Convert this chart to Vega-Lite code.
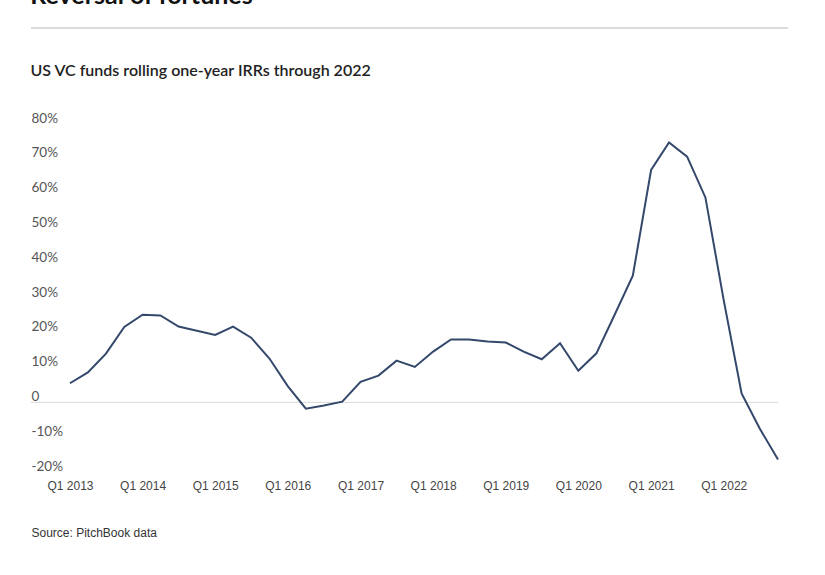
{
  "$schema": "https://vega.github.io/schema/vega-lite/v6.json",
  "background": "white",
  "padding": {"left": 30, "top": -16, "right": 20, "bottom": 20},
  "spacing": 34,
  "config": {"view": {"stroke": null}, "axis": {"labelOverlap": false}},
  "vconcat": [
    {
      "data": {"values": [{"level": 0}]},
      "width": 757,
      "height": 1,
      "title": {"text": "Reversal of fortunes", "anchor": "start", "font": "Lato", "fontSize": 25, "fontWeight": "bold", "color": "#111111", "offset": 18},
      "mark": {"type": "rule", "color": "#cfcfcf", "strokeWidth": 1.5},
      "encoding": {"y": {"field": "level", "type": "quantitative", "scale": {"domain": [0, 1]}, "axis": null}}
    },
    {
      "width": 747,
      "height": 348,
      "title": {"text": "US VC funds rolling one-year IRRs through 2022", "anchor": "start", "font": "Lato", "fontSize": 16, "fontWeight": 600, "color": "#222222", "offset": 32},
      "layer": [
        {
          "data": {"values": [{"level": 0}]},
          "mark": {"type": "rule", "color": "#d9d9d9", "strokeWidth": 1},
          "encoding": {"y": {"field": "level", "type": "quantitative", "scale": {"domain": [-20, 80], "nice": false},
              "axis": {
                "values": [-20, -10, 0, 10, 20, 30, 40, 50, 60, 70, 80],
                "labelExpr": "datum.value == 0 ? '0' : datum.value + '%'",
                "labelAlign": "left",
                "labelBaseline": "alphabetic",
                "labelOffset": -2,
                "labelPadding": 0,
                "labelOverlap": false,
                "labelFlush": false,
                "ticks": false,
                "tickSize": 0,
                "domain": false,
                "grid": false,
                "title": null,
                "labelFont": "Lato",
                "labelFontSize": 13.5,
                "labelColor": "#555555"
              }}}
        },
        {
          "data": {"values": [
            {"quarter": "2013-01-01", "irr": 5.5},
            {"quarter": "2013-04-01", "irr": 8.6},
            {"quarter": "2013-07-01", "irr": 14.0},
            {"quarter": "2013-10-01", "irr": 21.7},
            {"quarter": "2014-01-01", "irr": 25.2},
            {"quarter": "2014-04-01", "irr": 25.0},
            {"quarter": "2014-07-01", "irr": 21.8},
            {"quarter": "2014-10-01", "irr": 20.6},
            {"quarter": "2015-01-01", "irr": 19.4},
            {"quarter": "2015-04-01", "irr": 21.8},
            {"quarter": "2015-07-01", "irr": 18.6},
            {"quarter": "2015-10-01", "irr": 12.6},
            {"quarter": "2016-01-01", "irr": 4.7},
            {"quarter": "2016-04-01", "irr": -1.8},
            {"quarter": "2016-07-01", "irr": -0.9},
            {"quarter": "2016-10-01", "irr": 0.2},
            {"quarter": "2017-01-01", "irr": 5.9},
            {"quarter": "2017-04-01", "irr": 7.7},
            {"quarter": "2017-07-01", "irr": 12.0},
            {"quarter": "2017-10-01", "irr": 10.2},
            {"quarter": "2018-01-01", "irr": 14.6},
            {"quarter": "2018-04-01", "irr": 18.1},
            {"quarter": "2018-07-01", "irr": 18.1},
            {"quarter": "2018-10-01", "irr": 17.5},
            {"quarter": "2019-01-01", "irr": 17.2},
            {"quarter": "2019-04-01", "irr": 14.6},
            {"quarter": "2019-07-01", "irr": 12.4},
            {"quarter": "2019-10-01", "irr": 17.0},
            {"quarter": "2020-01-01", "irr": 9.1},
            {"quarter": "2020-04-01", "irr": 14.1},
            {"quarter": "2020-07-01", "irr": 25.1},
            {"quarter": "2020-10-01", "irr": 36.4},
            {"quarter": "2021-01-01", "irr": 66.8},
            {"quarter": "2021-04-01", "irr": 74.7},
            {"quarter": "2021-07-01", "irr": 70.6},
            {"quarter": "2021-10-01", "irr": 58.9},
            {"quarter": "2022-01-01", "irr": 29.4},
            {"quarter": "2022-04-01", "irr": 2.6},
            {"quarter": "2022-07-01", "irr": -7.5},
            {"quarter": "2022-10-01", "irr": -16.4}
          ]},
          "mark": {"type": "line", "color": "#34486b", "strokeWidth": 2},
          "encoding": {
            "x": {
              "field": "quarter",
              "type": "temporal",
              "scale": {"type": "utc", "domain": [
                {"year": 2012, "month": 6, "date": 19, "utc": true},
                {"year": 2022, "month": 10, "date": 1, "utc": true}
              ]},
              "axis": {
                "values": [
                  {"year": 2013, "month": 1, "date": 1, "utc": true},
                  {"year": 2014, "month": 1, "date": 1, "utc": true},
                  {"year": 2015, "month": 1, "date": 1, "utc": true},
                  {"year": 2016, "month": 1, "date": 1, "utc": true},
                  {"year": 2017, "month": 1, "date": 1, "utc": true},
                  {"year": 2018, "month": 1, "date": 1, "utc": true},
                  {"year": 2019, "month": 1, "date": 1, "utc": true},
                  {"year": 2020, "month": 1, "date": 1, "utc": true},
                  {"year": 2021, "month": 1, "date": 1, "utc": true},
                  {"year": 2022, "month": 1, "date": 1, "utc": true}
                ],
                "format": "Q%q %Y",
                "labelFont": "Liberation Sans",
                "labelFontSize": 12,
                "labelColor": "#444444",
                "labelPadding": 8,
                "labelFlush": false,
                "labelOverlap": false,
                "ticks": false,
                "domain": false,
                "grid": false,
                "title": "Source: PitchBook data",
                "titleAnchor": "start",
                "titleAlign": "left",
                "titleFont": "Liberation Sans",
                "titleFontSize": 12,
                "titleFontWeight": "normal",
                "titleColor": "#333333",
                "titlePadding": 36
              }
            },
            "y": {
              "field": "irr",
              "type": "quantitative",
              "scale": {"domain": [-20, 80], "nice": false},
              "axis": {
                "values": [-20, -10, 0, 10, 20, 30, 40, 50, 60, 70, 80],
                "labelExpr": "datum.value == 0 ? '0' : datum.value + '%'",
                "labelAlign": "left",
                "labelBaseline": "alphabetic",
                "labelOffset": -2,
                "labelPadding": 0,
                "labelOverlap": false,
                "labelFlush": false,
                "ticks": false,
                "tickSize": 0,
                "domain": false,
                "grid": false,
                "title": null,
                "labelFont": "Lato",
                "labelFontSize": 13.5,
                "labelColor": "#555555"
              }
            }
          }
        }
      ]
    }
  ]
}
